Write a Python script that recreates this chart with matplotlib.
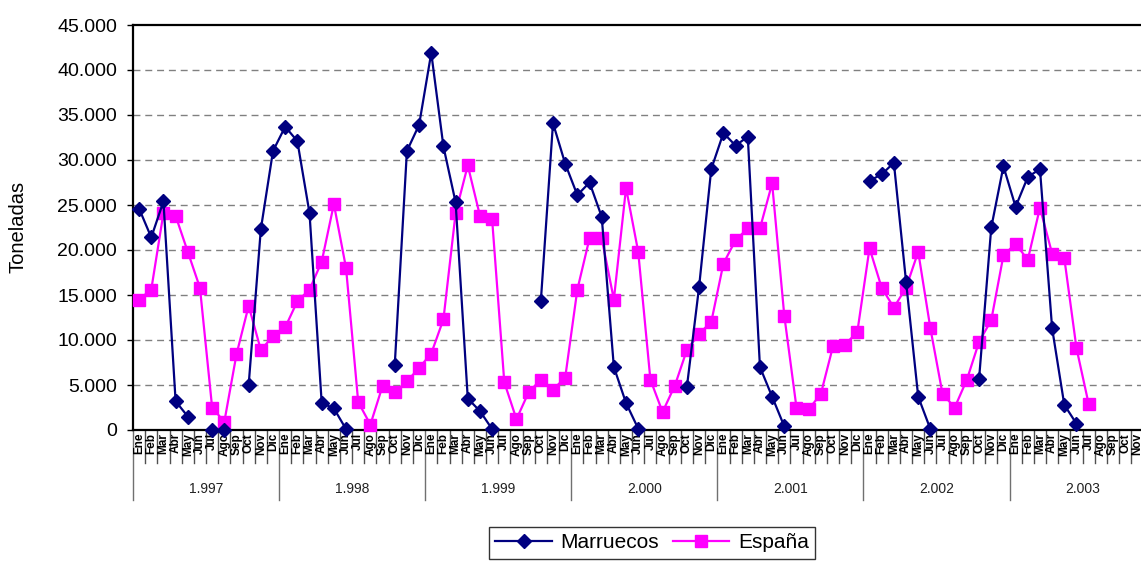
import numpy as np
import matplotlib
matplotlib.use("Agg")
import matplotlib.pyplot as plt
from matplotlib.ticker import FuncFormatter

plt.rcParams['font.family'] = ['Liberation Sans', 'DejaVu Sans']

nan = np.nan
months = ["Ene", "Feb", "Mar", "Abr", "May", "Jun", "Jul", "Ago", "Sep", "Oct", "Nov", "Dic"]
years = ["1.997", "1.998", "1.999", "2.000", "2.001", "2.002", "2.003"]

marruecos_1997 = [24600, 21400, 25400, 3200, 1500, nan, 0, 0, nan, 5000, 22300, 31000]
marruecos_1998 = [33700, 32100, 24100, 3000, 2400, 100, nan, nan, nan, 7200, 31000, 33900]
marruecos_1999 = [41900, 31500, 25300, 3500, 2100, 100, nan, nan, nan, 14300, 34100, 29600]
marruecos_2000 = [26100, 27500, 23700, 7000, 3000, 150, nan, nan, nan, 4800, 15900, 29000]
marruecos_2001 = [33000, 31600, 32600, 7000, 3700, 400, nan, nan, nan, nan, nan, nan]
marruecos_2002 = [27700, 28400, 29700, 16500, 3700, 100, nan, nan, nan, 5700, 22500, 29300]
marruecos_2003 = [24800, 28100, 29000, 11300, 2800, 700, nan, nan, nan, nan, nan, nan]

espana_1997 = [14500, 15600, 24100, 23800, 19800, 15800, 2500, 900, 8400, 13800, 8900, 10400]
espana_1998 = [11400, 14300, 15600, 18700, 25100, 18000, 3100, 600, 4900, 4200, 5400, 6900]
espana_1999 = [8500, 12300, 24100, 29400, 23800, 23400, 5300, 1200, 4200, 5600, 4500, 5800]
espana_2000 = [15600, 21300, 21300, 14500, 26900, 19800, 5600, 2000, 4900, 8900, 10700, 12000]
espana_2001 = [18500, 21100, 22400, 22400, 27400, 12700, 2500, 2300, 4000, 9300, 9500, 10900]
espana_2002 = [20200, 15800, 13600, 15800, 19800, 11300, 4000, 2500, 5600, 9800, 12200, 19400]
espana_2003 = [20700, 18900, 24700, 19600, 19100, 9100, 2900, nan, nan, nan, nan, nan]

marruecos = np.array(marruecos_1997 + marruecos_1998 + marruecos_1999 + marruecos_2000 +
                     marruecos_2001 + marruecos_2002 + marruecos_2003, dtype=float)
espana = np.array(espana_1997 + espana_1998 + espana_1999 + espana_2000 +
                  espana_2001 + espana_2002 + espana_2003, dtype=float)

W, H = 1141, 562
fig = plt.figure(figsize=(W / 100, H / 100), dpi=100)
left_px, right_px, top_px, bottom_px = 133, 1155.6, 25, 430
ax = fig.add_axes([left_px / W, (H - bottom_px) / H, (right_px - left_px) / W, (bottom_px - top_px) / H])

n = len(months) * len(years)
x = np.arange(n)

ax.plot(x, marruecos, color='#000080', lw=1.6, marker='D', markersize=6.8,
        markerfacecolor='#000080', markeredgecolor='#000080', clip_on=False, zorder=4, label='Marruecos')
ax.plot(x, espana, color='#FF00FF', lw=1.6, marker='s', markersize=8.2,
        markerfacecolor='#FF00FF', markeredgecolor='#FF00FF', clip_on=False, zorder=3, label='España')

ax.set_xlim(-0.5, n - 0.5)
ax.set_ylim(0, 45000)
ax.set_yticks(np.arange(0, 45001, 5000))
ax.yaxis.set_major_formatter(FuncFormatter(lambda v, p: f"{int(v):,}".replace(",", ".")))
ax.tick_params(axis='y', direction='out', length=4, width=1, pad=7.5, labelsize=14, colors='black')
ax.set_xticks([])

for yv in np.arange(5000, 45000, 5000):
    ax.axhline(yv, color='#808080', lw=1, linestyle=(0, (5, 3.5)), zorder=1)

for s in ['left', 'top', 'bottom']:
    ax.spines[s].set_color('black')
    ax.spines[s].set_linewidth(1.6)
ax.spines['right'].set_visible(False)

ax_h = bottom_px - top_px
trans = ax.get_xaxis_transform()
for i in range(n + 1):
    b = i - 0.5
    if i % 12 == 0:
        ax.plot([b, b], [0, -70 / ax_h], color='#707070', lw=1, transform=trans, clip_on=False)
    else:
        ax.plot([b, b], [0, -33 / ax_h], color='#505050', lw=1, transform=trans, clip_on=False)
for i in range(n):
    ax.text(i, -3 / ax_h, months[i % 12], rotation=90, ha='center', va='top',
            fontsize=8.5, fontweight='bold', transform=trans, clip_on=False)
for k, yr in enumerate(years):
    ax.text(k * 12 + 5.5, -59 / ax_h, yr, ha='center', va='center', fontsize=10,
            color='#222222', transform=trans)

fig.text(18 / W, (H - 227) / H, "Toneladas", rotation=90, ha='center', va='center', fontsize=14.5)

leg = fig.legend(handles=ax.get_lines()[:2], labels=['Marruecos', 'España'], loc='upper center',
                 bbox_to_anchor=(652 / W, (H - 527) / H), ncol=2, fontsize=15, frameon=True,
                 fancybox=False, edgecolor='black', numpoints=1, handlelength=2.7,
                 columnspacing=0.7, handletextpad=0.4, borderpad=0.3, borderaxespad=0)
leg.get_frame().set_linewidth(1)

fig.savefig("out.png", dpi=100)
